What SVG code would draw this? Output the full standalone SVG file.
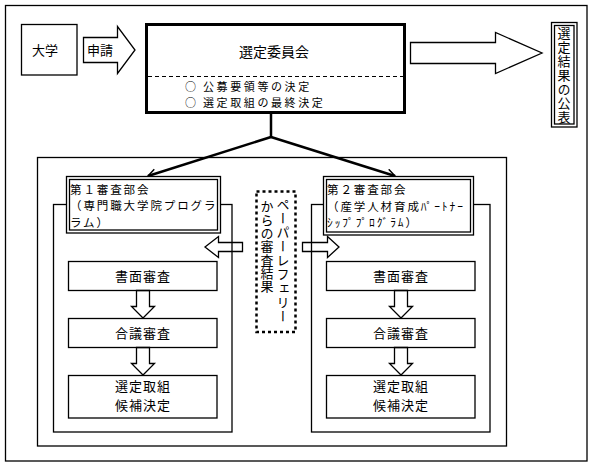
<svg xmlns="http://www.w3.org/2000/svg" width="597" height="466" viewBox="0 0 597 466">
<defs>
<style>
.ln{fill:none;stroke:#000;stroke-width:1.3}
.wb{fill:#fff;stroke:#000;stroke-width:1.3}
.t{font-family:"Noto Sans CJK JP","Noto Sans CJK SC",sans-serif;font-size:13px;fill:#000}
.h{font-size:11.5px;letter-spacing:1.9px}
.c{text-anchor:middle}
.v{writing-mode:tb}
</style>
<marker id="ah" markerUnits="userSpaceOnUse" markerWidth="12" markerHeight="12" refX="9" refY="5" orient="auto">
<path d="M1,0.5 L9,5 L1,9.5" fill="none" stroke="#000" stroke-width="1.5"/>
</marker>
</defs>
<rect width="597" height="466" fill="#fff"/>
<g id="frame">
<rect class="ln" x="5.5" y="5.5" width="581.5" height="455.5"/>
<rect class="ln" x="37.5" y="157.5" width="469" height="288.5"/>
<rect class="ln" x="53.5" y="204.5" width="178.5" height="227.5"/>
<rect class="ln" x="311.5" y="204.5" width="178.5" height="227.5"/>
</g>
<g id="univ">
<rect class="ln" x="21.5" y="24.5" width="55.5" height="50.5"/>
<text class="t" x="32" y="55">大学</text>
</g>
<g id="apply">
<polygon class="ln" points="83.5,37.5 117.5,37.5 117.5,26.5 135,50 117.5,73.5 117.5,62.5 83.5,62.5"/>
<text class="t" x="87" y="55">申請</text>
</g>
<g id="committee">
<rect x="146.5" y="24.5" width="258" height="88" fill="#fff" stroke="#000" stroke-width="3"/>
<text class="t c" x="274" y="57" style="font-size:14px">選定委員会</text>
<line x1="148" y1="76.5" x2="403" y2="76.5" stroke="#000" stroke-width="1" stroke-dasharray="4,3"/>
<text class="t" style="font-size:11px"><tspan x="185" y="91">○</tspan><tspan x="203" y="91" style="letter-spacing:2.6px">公募要領等の決定</tspan><tspan x="185" y="107">○</tspan><tspan x="203" y="107" style="letter-spacing:2.6px">選定取組の最終決定</tspan></text>
</g>
<g id="announce-arrow">
<polygon class="ln" points="410.5,42.5 495.5,42.5 495.5,32.5 542,53 495.5,73.5 495.5,63.5 410.5,63.5"/>
</g>
<g id="announce">
<rect class="ln" x="551.5" y="22.5" width="25.5" height="104.5"/>
<rect class="ln" x="554.5" y="25.5" width="19.5" height="98.5"/>
<text class="t v" x="564" y="27" style="letter-spacing:1px">選定結果の公表</text>
</g>
<g id="connectors">
<line x1="271" y1="113" x2="271" y2="137" stroke="#000" stroke-width="2.5"/>
<line x1="271" y1="137" x2="148" y2="176" stroke="#000" stroke-width="2.5" marker-end="url(#ah)"/>
<line x1="271" y1="137" x2="395" y2="176" stroke="#000" stroke-width="2.5" marker-end="url(#ah)"/>
<polygon class="ln" points="242.5,242.5 218.5,242.5 218.5,236.5 205,247 218.5,257.5 218.5,251.5 242.5,251.5"/>
<polygon class="ln" points="302.5,242.5 327.5,242.5 327.5,236.5 339,247 327.5,257.5 327.5,251.5 302.5,251.5"/>
<polygon class="ln" points="136.5,290.5 149.5,290.5 149.5,306.5 154.5,306.5 143,318 131.5,306.5 136.5,306.5"/>
<polygon class="ln" points="136.5,347.5 149.5,347.5 149.5,363.5 154.5,363.5 143,375 131.5,363.5 136.5,363.5"/>
<polygon class="ln" points="394.5,290.5 407.5,290.5 407.5,306.5 412.5,306.5 401,318 389.5,306.5 394.5,306.5"/>
<polygon class="ln" points="394.5,347.5 407.5,347.5 407.5,363.5 412.5,363.5 401,375 389.5,363.5 394.5,363.5"/>
</g>
<g id="sub1">
<rect class="wb" x="66.5" y="176.5" width="154" height="56.5"/>
<rect class="ln" x="69.5" y="179.5" width="148" height="50.5"/>
<text class="t h"><tspan x="70" y="193.6">第１審査部会</tspan><tspan x="70" y="210.3">（専門職大学院プログラ</tspan><tspan x="70" y="227">ラム）</tspan></text>
</g>
<g id="sub2">
<rect class="wb" x="323.5" y="176.5" width="150" height="58.5"/>
<rect class="ln" x="326.5" y="179.5" width="144" height="52.5"/>
<text class="t h"><tspan x="327" y="194">第２審査部会</tspan><tspan x="327" y="210.7">（産学人材育成ﾊﾟｰﾄﾅｰ</tspan><tspan x="327" y="227.4">ｼｯﾌﾟﾌﾟﾛｸﾞﾗﾑ）</tspan></text>
</g>
<g id="referee">
<rect x="256.5" y="191.5" width="39" height="140.5" fill="#fff" stroke="#000" stroke-width="2.5" stroke-dasharray="3,3"/>
<text class="t v"><tspan x="283" y="198" style="letter-spacing:1px">ペーパーレフェリー</tspan><tspan x="267" y="200" style="letter-spacing:0.3px">からの審査結果</tspan></text>
</g>
<g id="s1a">
<rect class="ln" x="68.5" y="261.5" width="148.5" height="29"/>
<text class="t c" x="143" y="281" style="letter-spacing:1px">書面審査</text>
</g>
<g id="s1b">
<rect class="ln" x="68.5" y="318.5" width="148.5" height="29"/>
<text class="t c" x="143" y="338" style="letter-spacing:1px">合議審査</text>
</g>
<g id="s1c">
<rect class="ln" x="68.5" y="375.5" width="148.5" height="42.5"/>
<text class="t c" style="letter-spacing:1px"><tspan x="143" y="391">選定取組</tspan><tspan x="143" y="410">候補決定</tspan></text>
</g>
<g id="s2a">
<rect class="ln" x="326.5" y="261.5" width="148.5" height="29"/>
<text class="t c" x="401" y="281" style="letter-spacing:1px">書面審査</text>
</g>
<g id="s2b">
<rect class="ln" x="326.5" y="318.5" width="148.5" height="29"/>
<text class="t c" x="401" y="338" style="letter-spacing:1px">合議審査</text>
</g>
<g id="s2c">
<rect class="ln" x="326.5" y="375.5" width="148.5" height="42.5"/>
<text class="t c" style="letter-spacing:1px"><tspan x="401" y="391">選定取組</tspan><tspan x="401" y="410">候補決定</tspan></text>
</g>
</svg>
